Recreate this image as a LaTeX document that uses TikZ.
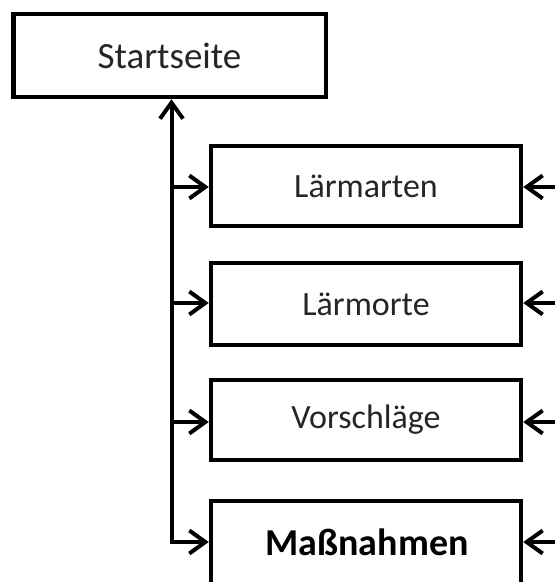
\documentclass[tikz,border=0pt]{standalone}
\usepackage{fontspec}
\setmainfont{Carlito}
\usetikzlibrary{arrows.meta}
\begin{document}
\begin{tikzpicture}[x=1pt,y=1pt,
  box/.style={draw=black,line width=4.5pt,fill=white,rectangle,inner sep=0pt,
    font=\fontsize{34}{40}\selectfont,text=black!85},
  conn/.style={line width=4pt,-{Straight Barb[length=16pt,width=23pt,line width=4pt]}}]
\useasboundingbox (0,0) rectangle (555,-582);
\clip (0,0) rectangle (555,-582);
\node[box,minimum width=312.5pt,minimum height=83pt,font=\fontsize{37}{44}\selectfont] (start) at (169.5,-55.5) {Startseite};
\node[box,minimum width=310pt,minimum height=80pt] (b1) at (366,-186) {Lärmarten};
\node[box,minimum width=310pt,minimum height=82pt] (b2) at (366,-304) {Lärmorte};
\node[box,minimum width=310pt,minimum height=80pt] (b3) at (366,-420) {Vorschläge};
\node[box,minimum width=310pt,minimum height=90pt] (b4) at (366,-546) {};
\node[font=\fontsize{38}{44}\selectfont\bfseries,text=black] (b4t) at (367,-542) {Maßnahmen};
\coordinate (j1) at (171.5,-187);
\coordinate (j2) at (171.5,-303);
\coordinate (j3) at (171.5,-422);
\coordinate (j4) at (171.5,-542);
\coordinate (r1) at (560,-187);
\coordinate (r2) at (560,-303);
\coordinate (r3) at (560,-422);
\coordinate (r4) at (560,-542);
\draw[conn] (j4) -- (j4 |- start.south);
\draw[conn] ([xshift=-2pt]j4) -- (j4 -| b4.west);
\draw[conn] (j1) -- (j1 -| b1.west);
\draw[conn] (j2) -- (j2 -| b2.west);
\draw[conn] (j3) -- (j3 -| b3.west);
\draw[conn] (r1) -- (r1 -| b1.east);
\draw[conn] (r2) -- (r2 -| b2.east);
\draw[conn] (r3) -- (r3 -| b3.east);
\draw[conn] (r4) -- (r4 -| b4.east);
\end{tikzpicture}
\end{document}
